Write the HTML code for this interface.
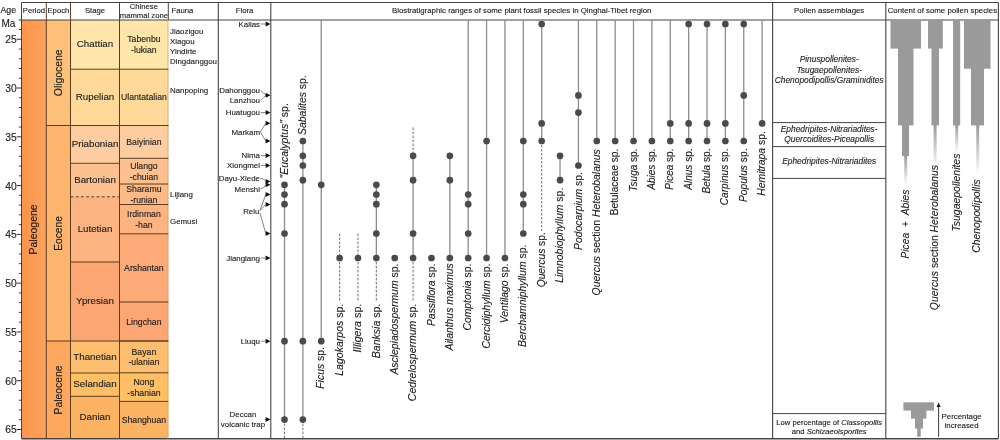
<!DOCTYPE html>
<html><head><meta charset="utf-8"><title>Biostratigraphic ranges</title>
<style>html,body{margin:0;padding:0;background:#fff;}body{width:1000px;height:440px;overflow:hidden;font-family:"Liberation Sans",sans-serif;}</style>
</head><body>
<svg width="1000" height="440" viewBox="0 0 1000 440" style="display:block;font-family:'Liberation Sans',sans-serif;filter:blur(0.42px)" stroke-linejoin="round">
<defs>
<linearGradient id="gP" x1="0" x2="1" y1="0" y2="0"><stop offset="0" stop-color="#fb9348"/><stop offset="1" stop-color="#fda25e"/></linearGradient>
<linearGradient id="fade" x1="0" x2="0" y1="0" y2="1"><stop offset="0" stop-color="#9a9a9a"/><stop offset="1" stop-color="#9a9a9a" stop-opacity="0"/></linearGradient>
<style>text{stroke:#1a1a1a;stroke-width:0.12px;paint-order:stroke fill}</style>
</defs>
<rect width="1000" height="440" fill="#fff"/>
<rect x="21.50" y="20.00" width="24.80" height="418.80" fill="url(#gP)"/>
<rect x="46.30" y="20.00" width="24.20" height="105.50" fill="#fdc07a"/>
<rect x="46.30" y="125.50" width="24.20" height="215.50" fill="#fdb46c"/>
<rect x="46.30" y="341.00" width="24.20" height="97.80" fill="#fda75f"/>
<rect x="70.50" y="20.00" width="49.00" height="49.20" fill="#fee6aa"/>
<rect x="70.50" y="69.20" width="49.00" height="56.30" fill="#fed99a"/>
<rect x="70.50" y="125.50" width="49.00" height="37.80" fill="#fdcda1"/>
<rect x="70.50" y="163.30" width="49.00" height="33.50" fill="#fdc091"/>
<rect x="70.50" y="196.80" width="49.00" height="65.20" fill="#fdb482"/>
<rect x="70.50" y="262.00" width="49.00" height="79.00" fill="#fca773"/>
<rect x="70.50" y="341.00" width="49.00" height="32.00" fill="#fdbf6f"/>
<rect x="70.50" y="373.00" width="49.00" height="23.30" fill="#febf65"/>
<rect x="70.50" y="396.30" width="49.00" height="42.50" fill="#fdb462"/>
<rect x="119.50" y="20.00" width="48.80" height="49.20" fill="#fee6aa"/>
<rect x="119.50" y="69.20" width="48.80" height="56.30" fill="#fed99a"/>
<rect x="119.50" y="125.50" width="48.80" height="32.80" fill="#fdcda1"/>
<rect x="119.50" y="158.30" width="48.80" height="25.70" fill="#fdc091"/>
<rect x="119.50" y="184.00" width="48.80" height="20.50" fill="#fdba89"/>
<rect x="119.50" y="204.50" width="48.80" height="29.30" fill="#fdb482"/>
<rect x="119.50" y="233.80" width="48.80" height="68.20" fill="#fcab78"/>
<rect x="119.50" y="302.00" width="48.80" height="39.00" fill="#fca773"/>
<rect x="119.50" y="341.00" width="48.80" height="31.80" fill="#fdbf6f"/>
<rect x="119.50" y="372.80" width="48.80" height="28.60" fill="#febf65"/>
<rect x="119.50" y="401.40" width="48.80" height="37.40" fill="#fdb462"/>
<line x1="21.50" y1="2.50" x2="998.40" y2="2.50" stroke="#444" stroke-width="1.0"/>
<line x1="21.50" y1="20.00" x2="998.40" y2="20.00" stroke="#444" stroke-width="1.2"/>
<line x1="21.50" y1="438.80" x2="998.40" y2="438.80" stroke="#444" stroke-width="1.4"/>
<line x1="21.50" y1="2.50" x2="21.50" y2="438.80" stroke="#5e3d1c" stroke-width="1.0"/>
<line x1="46.30" y1="2.50" x2="46.30" y2="438.80" stroke="#5e3d1c" stroke-width="1.0"/>
<line x1="70.50" y1="2.50" x2="70.50" y2="438.80" stroke="#5e3d1c" stroke-width="1.0"/>
<line x1="119.50" y1="2.50" x2="119.50" y2="438.80" stroke="#5e3d1c" stroke-width="1.0"/>
<line x1="168.30" y1="2.50" x2="168.30" y2="20.00" stroke="#444" stroke-width="1.0"/>
<line x1="168.00" y1="20.00" x2="168.00" y2="438.80" stroke="#c9a470" stroke-width="0.8"/>
<line x1="218.30" y1="2.50" x2="218.30" y2="438.80" stroke="#444" stroke-width="1.1"/>
<line x1="270.80" y1="2.50" x2="270.80" y2="438.80" stroke="#444" stroke-width="1.1"/>
<line x1="772.60" y1="2.50" x2="772.60" y2="438.80" stroke="#444" stroke-width="1.1"/>
<line x1="885.80" y1="2.50" x2="885.80" y2="438.80" stroke="#444" stroke-width="1.1"/>
<line x1="998.40" y1="2.50" x2="998.40" y2="438.80" stroke="#444" stroke-width="1.1"/>
<line x1="46.30" y1="125.50" x2="168.30" y2="125.50" stroke="#5e3d1c" stroke-width="1.0"/>
<line x1="46.30" y1="341.00" x2="168.30" y2="341.00" stroke="#5e3d1c" stroke-width="1.0"/>
<line x1="70.50" y1="69.20" x2="119.50" y2="69.20" stroke="#5e3d1c" stroke-width="1.0"/>
<line x1="70.50" y1="163.30" x2="119.50" y2="163.30" stroke="#5e3d1c" stroke-width="1.0"/>
<line x1="70.50" y1="196.80" x2="119.50" y2="196.80" stroke="#5e3d1c" stroke-width="1.0" stroke-dasharray="3 2.2"/>
<line x1="70.50" y1="262.00" x2="119.50" y2="262.00" stroke="#5e3d1c" stroke-width="1.0"/>
<line x1="70.50" y1="373.00" x2="119.50" y2="373.00" stroke="#5e3d1c" stroke-width="1.0"/>
<line x1="70.50" y1="396.30" x2="119.50" y2="396.30" stroke="#5e3d1c" stroke-width="1.0"/>
<line x1="119.50" y1="69.20" x2="168.30" y2="69.20" stroke="#5e3d1c" stroke-width="1.0"/>
<line x1="119.50" y1="125.50" x2="168.30" y2="125.50" stroke="#5e3d1c" stroke-width="1.0"/>
<line x1="119.50" y1="158.30" x2="168.30" y2="158.30" stroke="#5e3d1c" stroke-width="1.0"/>
<line x1="119.50" y1="184.00" x2="168.30" y2="184.00" stroke="#5e3d1c" stroke-width="1.0"/>
<line x1="119.50" y1="204.50" x2="168.30" y2="204.50" stroke="#5e3d1c" stroke-width="1.0"/>
<line x1="119.50" y1="233.80" x2="168.30" y2="233.80" stroke="#5e3d1c" stroke-width="1.0"/>
<line x1="119.50" y1="302.00" x2="168.30" y2="302.00" stroke="#5e3d1c" stroke-width="1.0"/>
<line x1="119.50" y1="341.00" x2="168.30" y2="341.00" stroke="#5e3d1c" stroke-width="1.0"/>
<line x1="119.50" y1="372.80" x2="168.30" y2="372.80" stroke="#5e3d1c" stroke-width="1.0"/>
<line x1="119.50" y1="401.40" x2="168.30" y2="401.40" stroke="#5e3d1c" stroke-width="1.0"/>
<line x1="18.80" y1="29.49" x2="21.50" y2="29.49" stroke="#333" stroke-width="0.9"/>
<line x1="16.70" y1="39.25" x2="21.50" y2="39.25" stroke="#333" stroke-width="1.0"/>
<line x1="18.80" y1="49.01" x2="21.50" y2="49.01" stroke="#333" stroke-width="0.9"/>
<line x1="18.80" y1="58.76" x2="21.50" y2="58.76" stroke="#333" stroke-width="0.9"/>
<line x1="18.80" y1="68.52" x2="21.50" y2="68.52" stroke="#333" stroke-width="0.9"/>
<line x1="18.80" y1="78.27" x2="21.50" y2="78.27" stroke="#333" stroke-width="0.9"/>
<line x1="16.70" y1="88.03" x2="21.50" y2="88.03" stroke="#333" stroke-width="1.0"/>
<line x1="18.80" y1="97.79" x2="21.50" y2="97.79" stroke="#333" stroke-width="0.9"/>
<line x1="18.80" y1="107.54" x2="21.50" y2="107.54" stroke="#333" stroke-width="0.9"/>
<line x1="18.80" y1="117.30" x2="21.50" y2="117.30" stroke="#333" stroke-width="0.9"/>
<line x1="18.80" y1="127.05" x2="21.50" y2="127.05" stroke="#333" stroke-width="0.9"/>
<line x1="16.70" y1="136.81" x2="21.50" y2="136.81" stroke="#333" stroke-width="1.0"/>
<line x1="18.80" y1="146.57" x2="21.50" y2="146.57" stroke="#333" stroke-width="0.9"/>
<line x1="18.80" y1="156.32" x2="21.50" y2="156.32" stroke="#333" stroke-width="0.9"/>
<line x1="18.80" y1="166.08" x2="21.50" y2="166.08" stroke="#333" stroke-width="0.9"/>
<line x1="18.80" y1="175.83" x2="21.50" y2="175.83" stroke="#333" stroke-width="0.9"/>
<line x1="16.70" y1="185.59" x2="21.50" y2="185.59" stroke="#333" stroke-width="1.0"/>
<line x1="18.80" y1="195.35" x2="21.50" y2="195.35" stroke="#333" stroke-width="0.9"/>
<line x1="18.80" y1="205.10" x2="21.50" y2="205.10" stroke="#333" stroke-width="0.9"/>
<line x1="18.80" y1="214.86" x2="21.50" y2="214.86" stroke="#333" stroke-width="0.9"/>
<line x1="18.80" y1="224.61" x2="21.50" y2="224.61" stroke="#333" stroke-width="0.9"/>
<line x1="16.70" y1="234.37" x2="21.50" y2="234.37" stroke="#333" stroke-width="1.0"/>
<line x1="18.80" y1="244.13" x2="21.50" y2="244.13" stroke="#333" stroke-width="0.9"/>
<line x1="18.80" y1="253.88" x2="21.50" y2="253.88" stroke="#333" stroke-width="0.9"/>
<line x1="18.80" y1="263.64" x2="21.50" y2="263.64" stroke="#333" stroke-width="0.9"/>
<line x1="18.80" y1="273.39" x2="21.50" y2="273.39" stroke="#333" stroke-width="0.9"/>
<line x1="16.70" y1="283.15" x2="21.50" y2="283.15" stroke="#333" stroke-width="1.0"/>
<line x1="18.80" y1="292.91" x2="21.50" y2="292.91" stroke="#333" stroke-width="0.9"/>
<line x1="18.80" y1="302.66" x2="21.50" y2="302.66" stroke="#333" stroke-width="0.9"/>
<line x1="18.80" y1="312.42" x2="21.50" y2="312.42" stroke="#333" stroke-width="0.9"/>
<line x1="18.80" y1="322.17" x2="21.50" y2="322.17" stroke="#333" stroke-width="0.9"/>
<line x1="16.70" y1="331.93" x2="21.50" y2="331.93" stroke="#333" stroke-width="1.0"/>
<line x1="18.80" y1="341.69" x2="21.50" y2="341.69" stroke="#333" stroke-width="0.9"/>
<line x1="18.80" y1="351.44" x2="21.50" y2="351.44" stroke="#333" stroke-width="0.9"/>
<line x1="18.80" y1="361.20" x2="21.50" y2="361.20" stroke="#333" stroke-width="0.9"/>
<line x1="18.80" y1="370.95" x2="21.50" y2="370.95" stroke="#333" stroke-width="0.9"/>
<line x1="16.70" y1="380.71" x2="21.50" y2="380.71" stroke="#333" stroke-width="1.0"/>
<line x1="18.80" y1="390.47" x2="21.50" y2="390.47" stroke="#333" stroke-width="0.9"/>
<line x1="18.80" y1="400.22" x2="21.50" y2="400.22" stroke="#333" stroke-width="0.9"/>
<line x1="18.80" y1="409.98" x2="21.50" y2="409.98" stroke="#333" stroke-width="0.9"/>
<line x1="18.80" y1="419.73" x2="21.50" y2="419.73" stroke="#333" stroke-width="0.9"/>
<line x1="16.70" y1="429.49" x2="21.50" y2="429.49" stroke="#333" stroke-width="1.0"/>
<text x="16.70" y="43.20" font-size="10.3" text-anchor="end" fill="#1a1a1a">25</text>
<text x="16.70" y="91.98" font-size="10.3" text-anchor="end" fill="#1a1a1a">30</text>
<text x="16.70" y="140.76" font-size="10.3" text-anchor="end" fill="#1a1a1a">35</text>
<text x="16.70" y="189.54" font-size="10.3" text-anchor="end" fill="#1a1a1a">40</text>
<text x="16.70" y="238.32" font-size="10.3" text-anchor="end" fill="#1a1a1a">45</text>
<text x="16.70" y="287.10" font-size="10.3" text-anchor="end" fill="#1a1a1a">50</text>
<text x="16.70" y="335.88" font-size="10.3" text-anchor="end" fill="#1a1a1a">55</text>
<text x="16.70" y="384.66" font-size="10.3" text-anchor="end" fill="#1a1a1a">60</text>
<text x="16.70" y="433.44" font-size="10.3" text-anchor="end" fill="#1a1a1a">65</text>
<text x="0.50" y="12.70" font-size="8.8" text-anchor="start" fill="#1a1a1a">Age</text>
<text x="1.50" y="27.20" font-size="10.0" text-anchor="start" fill="#1a1a1a">Ma</text>
<line x1="18.60" y1="20.00" x2="21.50" y2="20.00" stroke="#333" stroke-width="1.0"/>
<text x="33.90" y="12.90" font-size="7.7" text-anchor="middle" fill="#1a1a1a">Period</text>
<text x="58.40" y="12.90" font-size="7.7" text-anchor="middle" fill="#1a1a1a">Epoch</text>
<text x="95.00" y="12.90" font-size="7.7" text-anchor="middle" fill="#1a1a1a">Stage</text>
<text x="143.90" y="8.50" font-size="7.7" text-anchor="middle" fill="#1a1a1a">Chinese</text>
<text x="143.90" y="17.70" font-size="7.7" text-anchor="middle" fill="#1a1a1a">mammal zone</text>
<text x="171.50" y="12.90" font-size="7.7" text-anchor="start" fill="#1a1a1a">Fauna</text>
<text x="244.55" y="12.90" font-size="7.7" text-anchor="middle" fill="#1a1a1a">Flora</text>
<text x="521.70" y="12.90" font-size="7.85" text-anchor="middle" fill="#1a1a1a">Biostratigraphic ranges of some plant fossil species in Qinghai-Tibet region</text>
<text x="829.20" y="12.90" font-size="7.85" text-anchor="middle" fill="#1a1a1a">Pollen assemblages</text>
<text x="942.40" y="12.90" font-size="7.85" text-anchor="middle" fill="#1a1a1a">Content of some pollen species</text>
<text transform="translate(37.13,229.40) rotate(-90)" font-size="10.5" text-anchor="middle" fill="#1a1a1a">Paleogene</text>
<text transform="translate(61.89,72.80) rotate(-90)" font-size="10.4" text-anchor="middle" fill="#1a1a1a">Oligocene</text>
<text transform="translate(61.86,233.40) rotate(-90)" font-size="10.3" text-anchor="middle" fill="#1a1a1a">Eocene</text>
<text transform="translate(61.89,390.00) rotate(-90)" font-size="10.4" text-anchor="middle" fill="#1a1a1a">Paleocene</text>
<text x="95.00" y="47.30" font-size="9.75" text-anchor="middle" fill="#1a1a1a">Chattian</text>
<text x="95.00" y="100.05" font-size="9.75" text-anchor="middle" fill="#1a1a1a">Rupelian</text>
<text x="95.00" y="147.10" font-size="9.75" text-anchor="middle" fill="#1a1a1a">Priabonian</text>
<text x="95.00" y="182.75" font-size="9.75" text-anchor="middle" fill="#1a1a1a">Bartonian</text>
<text x="95.00" y="232.10" font-size="9.75" text-anchor="middle" fill="#1a1a1a">Lutetian</text>
<text x="95.00" y="304.20" font-size="9.75" text-anchor="middle" fill="#1a1a1a">Ypresian</text>
<text x="95.00" y="359.70" font-size="9.75" text-anchor="middle" fill="#1a1a1a">Thanetian</text>
<text x="95.00" y="387.35" font-size="9.75" text-anchor="middle" fill="#1a1a1a">Selandian</text>
<text x="95.00" y="420.25" font-size="9.75" text-anchor="middle" fill="#1a1a1a">Danian</text>
<text x="143.90" y="42.40" font-size="8.7" text-anchor="middle" fill="#1a1a1a">Tabenbu</text>
<text x="143.90" y="53.00" font-size="8.7" text-anchor="middle" fill="#1a1a1a">-lukian</text>
<text x="143.90" y="100.45" font-size="8.7" text-anchor="middle" fill="#1a1a1a">Ulantatalian</text>
<text x="143.90" y="145.00" font-size="8.7" text-anchor="middle" fill="#1a1a1a">Baiyinian</text>
<text x="143.90" y="168.95" font-size="8.7" text-anchor="middle" fill="#1a1a1a">Ulango</text>
<text x="143.90" y="179.55" font-size="8.7" text-anchor="middle" fill="#1a1a1a">-chuian</text>
<text x="143.90" y="192.05" font-size="8.7" text-anchor="middle" fill="#1a1a1a">Sharamu</text>
<text x="143.90" y="202.65" font-size="8.7" text-anchor="middle" fill="#1a1a1a">-runian</text>
<text x="143.90" y="216.95" font-size="8.7" text-anchor="middle" fill="#1a1a1a">Irdinman</text>
<text x="143.90" y="227.55" font-size="8.7" text-anchor="middle" fill="#1a1a1a">-han</text>
<text x="143.90" y="271.00" font-size="8.7" text-anchor="middle" fill="#1a1a1a">Arshantan</text>
<text x="143.90" y="324.60" font-size="8.7" text-anchor="middle" fill="#1a1a1a">Lingchan</text>
<text x="143.90" y="354.70" font-size="8.7" text-anchor="middle" fill="#1a1a1a">Bayan</text>
<text x="143.90" y="365.30" font-size="8.7" text-anchor="middle" fill="#1a1a1a">-ulanian</text>
<text x="143.90" y="384.90" font-size="8.7" text-anchor="middle" fill="#1a1a1a">Nong</text>
<text x="143.90" y="395.50" font-size="8.7" text-anchor="middle" fill="#1a1a1a">-shanian</text>
<text x="143.90" y="423.20" font-size="8.7" text-anchor="middle" fill="#1a1a1a">Shanghuan</text>
<text x="170.00" y="34.20" font-size="7.9" text-anchor="start" fill="#1a1a1a">Jiaozigou</text>
<text x="170.00" y="44.20" font-size="7.9" text-anchor="start" fill="#1a1a1a">Xiagou</text>
<text x="170.00" y="54.10" font-size="7.9" text-anchor="start" fill="#1a1a1a">Yindirte</text>
<text x="170.00" y="63.80" font-size="7.9" text-anchor="start" fill="#1a1a1a">Dingdanggou</text>
<text x="170.00" y="93.10" font-size="7.9" text-anchor="start" fill="#1a1a1a">Nanpoping</text>
<text x="170.00" y="197.30" font-size="7.9" text-anchor="start" fill="#1a1a1a">Lijiang</text>
<text x="170.00" y="223.70" font-size="7.9" text-anchor="start" fill="#1a1a1a">Gemusi</text>
<text x="260.00" y="26.80" font-size="7.9" text-anchor="end" fill="#1a1a1a">Kailas</text>
<path d="M260.80 24.00 L265.80 24.00" fill="none" stroke="#5a5a5a" stroke-width="0.75"/>
<path d="M270.50 24.00 L265.60 21.50 L265.60 26.50Z" fill="#111"/>
<text x="260.00" y="93.00" font-size="7.9" text-anchor="end" fill="#1a1a1a">Dahonggou</text>
<text x="260.00" y="103.40" font-size="7.9" text-anchor="end" fill="#1a1a1a">Lanzhou</text>
<path d="M260.50 90.40 L263.60 93.00 L265.80 95.20" fill="none" stroke="#5a5a5a" stroke-width="0.75"/>
<path d="M260.50 100.40 L263.60 97.40 L265.80 95.20" fill="none" stroke="#5a5a5a" stroke-width="0.75"/>
<path d="M270.50 95.20 L265.60 92.70 L265.60 97.70Z" fill="#111"/>
<text x="260.00" y="115.40" font-size="7.9" text-anchor="end" fill="#1a1a1a">Huatugou</text>
<path d="M260.80 112.60 L265.80 112.60" fill="none" stroke="#5a5a5a" stroke-width="0.75"/>
<path d="M270.50 112.60 L265.60 110.10 L265.60 115.10Z" fill="#111"/>
<text x="260.00" y="134.80" font-size="7.9" text-anchor="end" fill="#1a1a1a">Markam</text>
<path d="M260.40 132.00 L265.80 123.20" fill="none" stroke="#5a5a5a" stroke-width="0.75"/>
<path d="M260.40 132.00 L265.80 141.00" fill="none" stroke="#5a5a5a" stroke-width="0.75"/>
<path d="M270.50 123.20 L265.60 120.70 L265.60 125.70Z" fill="#111"/>
<path d="M270.50 141.00 L265.60 138.50 L265.60 143.50Z" fill="#111"/>
<text x="260.00" y="158.40" font-size="7.9" text-anchor="end" fill="#1a1a1a">Nima</text>
<path d="M260.80 155.60 L265.80 155.60" fill="none" stroke="#5a5a5a" stroke-width="0.75"/>
<path d="M270.50 155.60 L265.60 153.10 L265.60 158.10Z" fill="#111"/>
<text x="260.00" y="168.20" font-size="7.9" text-anchor="end" fill="#1a1a1a">Xiongmei</text>
<path d="M260.80 165.40 L265.80 165.40" fill="none" stroke="#5a5a5a" stroke-width="0.75"/>
<path d="M270.50 165.40 L265.60 162.90 L265.60 167.90Z" fill="#111"/>
<text x="260.00" y="181.00" font-size="7.9" text-anchor="end" fill="#1a1a1a">Dayu-Xiede</text>
<path d="M260.40 178.40 L263.50 179.00 L265.80 181.40" fill="none" stroke="#5a5a5a" stroke-width="0.75"/>
<path d="M270.50 181.40 L265.60 178.90 L265.60 183.90Z" fill="#111"/>
<text x="260.00" y="192.40" font-size="7.9" text-anchor="end" fill="#1a1a1a">Menshi</text>
<path d="M260.40 189.00 L263.50 187.60 L265.80 184.80" fill="none" stroke="#5a5a5a" stroke-width="0.75"/>
<path d="M270.50 184.80 L265.60 182.30 L265.60 187.30Z" fill="#111"/>
<text x="259.40" y="214.40" font-size="7.9" text-anchor="end" fill="#1a1a1a">Relu</text>
<path d="M260.00 210.50 L265.80 194.40" fill="none" stroke="#5a5a5a" stroke-width="0.75"/>
<path d="M260.00 210.50 L265.80 204.40" fill="none" stroke="#5a5a5a" stroke-width="0.75"/>
<path d="M260.00 213.00 L265.80 233.60" fill="none" stroke="#5a5a5a" stroke-width="0.75"/>
<path d="M270.50 194.40 L265.60 191.90 L265.60 196.90Z" fill="#111"/>
<path d="M270.50 204.40 L265.60 201.90 L265.60 206.90Z" fill="#111"/>
<path d="M270.50 233.60 L265.60 231.10 L265.60 236.10Z" fill="#111"/>
<text x="260.00" y="260.80" font-size="7.9" text-anchor="end" fill="#1a1a1a">Jianglang</text>
<path d="M260.80 258.00 L265.80 258.00" fill="none" stroke="#5a5a5a" stroke-width="0.75"/>
<path d="M270.50 258.00 L265.60 255.50 L265.60 260.50Z" fill="#111"/>
<text x="260.00" y="344.00" font-size="7.9" text-anchor="end" fill="#1a1a1a">Liuqu</text>
<path d="M260.80 341.20 L265.80 341.20" fill="none" stroke="#5a5a5a" stroke-width="0.75"/>
<path d="M270.50 341.20 L265.60 338.70 L265.60 343.70Z" fill="#111"/>
<text x="243.00" y="417.20" font-size="7.9" text-anchor="middle" fill="#1a1a1a">Deccan</text>
<text x="243.00" y="426.60" font-size="7.9" text-anchor="middle" fill="#1a1a1a">volcanic trap</text>
<path d="M264.60 419.60 L265.80 419.60" fill="none" stroke="#5a5a5a" stroke-width="0.75"/>
<path d="M270.50 419.60 L265.60 417.10 L265.60 422.10Z" fill="#111"/>
<line x1="284.50" y1="184.80" x2="284.50" y2="419.60" stroke="#8c8c8c" stroke-width="1.3"/>
<line x1="284.50" y1="419.60" x2="284.50" y2="438.80" stroke="#7c7c7c" stroke-width="1.1" stroke-dasharray="2.5 1.5"/>
<line x1="302.87" y1="141.00" x2="302.87" y2="419.60" stroke="#8c8c8c" stroke-width="1.3"/>
<line x1="302.87" y1="419.60" x2="302.87" y2="438.80" stroke="#7c7c7c" stroke-width="1.1" stroke-dasharray="2.5 1.5"/>
<line x1="321.24" y1="20.00" x2="321.24" y2="341.20" stroke="#8c8c8c" stroke-width="1.3"/>
<line x1="339.61" y1="233.50" x2="339.61" y2="258.00" stroke="#7c7c7c" stroke-width="1.1" stroke-dasharray="2.5 1.5"/>
<line x1="339.61" y1="258.00" x2="339.61" y2="300.60" stroke="#7c7c7c" stroke-width="1.1" stroke-dasharray="2.5 1.5"/>
<line x1="357.98" y1="233.50" x2="357.98" y2="258.00" stroke="#7c7c7c" stroke-width="1.1" stroke-dasharray="2.5 1.5"/>
<line x1="357.98" y1="258.00" x2="357.98" y2="300.60" stroke="#7c7c7c" stroke-width="1.1" stroke-dasharray="2.5 1.5"/>
<line x1="376.35" y1="184.80" x2="376.35" y2="258.00" stroke="#8c8c8c" stroke-width="1.3"/>
<line x1="376.35" y1="258.00" x2="376.35" y2="300.60" stroke="#7c7c7c" stroke-width="1.1" stroke-dasharray="2.5 1.5"/>
<line x1="413.09" y1="155.80" x2="413.09" y2="258.00" stroke="#8c8c8c" stroke-width="1.3"/>
<line x1="413.09" y1="127.50" x2="413.09" y2="155.80" stroke="#7c7c7c" stroke-width="1.1" stroke-dasharray="2.5 1.5"/>
<line x1="413.09" y1="258.00" x2="413.09" y2="300.60" stroke="#7c7c7c" stroke-width="1.1" stroke-dasharray="2.5 1.5"/>
<line x1="449.83" y1="155.80" x2="449.83" y2="258.00" stroke="#8c8c8c" stroke-width="1.3"/>
<line x1="468.20" y1="20.00" x2="468.20" y2="258.00" stroke="#8c8c8c" stroke-width="1.3"/>
<line x1="486.57" y1="20.00" x2="486.57" y2="258.00" stroke="#8c8c8c" stroke-width="1.3"/>
<line x1="504.94" y1="20.00" x2="504.94" y2="258.00" stroke="#8c8c8c" stroke-width="1.3"/>
<line x1="523.31" y1="20.00" x2="523.31" y2="233.50" stroke="#8c8c8c" stroke-width="1.3"/>
<line x1="541.68" y1="24.00" x2="541.68" y2="141.00" stroke="#8c8c8c" stroke-width="1.3"/>
<line x1="541.68" y1="141.00" x2="541.68" y2="231.00" stroke="#7c7c7c" stroke-width="1.1" stroke-dasharray="2.5 1.5"/>
<line x1="560.05" y1="155.80" x2="560.05" y2="180.20" stroke="#8c8c8c" stroke-width="1.3"/>
<line x1="578.42" y1="20.00" x2="578.42" y2="165.50" stroke="#8c8c8c" stroke-width="1.3"/>
<line x1="596.79" y1="20.00" x2="596.79" y2="141.00" stroke="#8c8c8c" stroke-width="1.3"/>
<line x1="615.16" y1="20.00" x2="615.16" y2="141.00" stroke="#8c8c8c" stroke-width="1.3"/>
<line x1="633.53" y1="20.00" x2="633.53" y2="141.00" stroke="#8c8c8c" stroke-width="1.3"/>
<line x1="651.90" y1="20.00" x2="651.90" y2="141.00" stroke="#8c8c8c" stroke-width="1.3"/>
<line x1="670.27" y1="20.00" x2="670.27" y2="141.00" stroke="#8c8c8c" stroke-width="1.3"/>
<line x1="688.64" y1="20.00" x2="688.64" y2="141.00" stroke="#8c8c8c" stroke-width="1.3"/>
<line x1="707.01" y1="20.00" x2="707.01" y2="141.00" stroke="#8c8c8c" stroke-width="1.3"/>
<line x1="725.38" y1="20.00" x2="725.38" y2="141.00" stroke="#8c8c8c" stroke-width="1.3"/>
<line x1="743.75" y1="20.00" x2="743.75" y2="141.00" stroke="#8c8c8c" stroke-width="1.3"/>
<line x1="762.12" y1="20.00" x2="762.12" y2="123.40" stroke="#8c8c8c" stroke-width="1.3"/>
<circle cx="284.50" cy="184.80" r="3.35" fill="#4a4a4a"/>
<circle cx="284.50" cy="194.50" r="3.35" fill="#4a4a4a"/>
<circle cx="284.50" cy="204.20" r="3.35" fill="#4a4a4a"/>
<circle cx="284.50" cy="233.50" r="3.35" fill="#4a4a4a"/>
<circle cx="284.50" cy="341.20" r="3.35" fill="#4a4a4a"/>
<circle cx="284.50" cy="419.60" r="3.35" fill="#4a4a4a"/>
<text transform="translate(287.66,178.50) rotate(-90)" font-size="10.45" text-anchor="start" fill="#1a1a1a" xml:space="preserve"><tspan font-style="italic">&quot;Eucalyptus&quot;</tspan><tspan> sp.</tspan></text>
<circle cx="302.87" cy="141.00" r="3.35" fill="#4a4a4a"/>
<circle cx="302.87" cy="155.80" r="3.35" fill="#4a4a4a"/>
<circle cx="302.87" cy="165.50" r="3.35" fill="#4a4a4a"/>
<circle cx="302.87" cy="180.20" r="3.35" fill="#4a4a4a"/>
<circle cx="302.87" cy="341.20" r="3.35" fill="#4a4a4a"/>
<circle cx="302.87" cy="419.60" r="3.35" fill="#4a4a4a"/>
<text transform="translate(306.03,135.00) rotate(-90)" font-size="10.45" text-anchor="start" fill="#1a1a1a" xml:space="preserve"><tspan font-style="italic">Sabalites</tspan><tspan> sp.</tspan></text>
<circle cx="321.24" cy="184.80" r="3.35" fill="#4a4a4a"/>
<circle cx="321.24" cy="341.20" r="3.35" fill="#4a4a4a"/>
<text transform="translate(324.40,347.00) rotate(-90)" font-size="10.45" text-anchor="end" fill="#1a1a1a" xml:space="preserve"><tspan font-style="italic">Ficus</tspan><tspan> sp.</tspan></text>
<circle cx="339.61" cy="258.00" r="3.35" fill="#4a4a4a"/>
<text transform="translate(342.81,303.70) rotate(-90)" font-size="10.55" text-anchor="end" fill="#1a1a1a" xml:space="preserve"><tspan font-style="italic">Lagokarpos</tspan><tspan> sp.</tspan></text>
<circle cx="357.98" cy="258.00" r="3.35" fill="#4a4a4a"/>
<text transform="translate(361.23,303.70) rotate(-90)" font-size="10.7" text-anchor="end" fill="#1a1a1a" xml:space="preserve"><tspan font-style="italic">Illigera</tspan><tspan> sp.</tspan></text>
<circle cx="376.35" cy="184.80" r="3.35" fill="#4a4a4a"/>
<circle cx="376.35" cy="194.50" r="3.35" fill="#4a4a4a"/>
<circle cx="376.35" cy="204.20" r="3.35" fill="#4a4a4a"/>
<circle cx="376.35" cy="233.50" r="3.35" fill="#4a4a4a"/>
<circle cx="376.35" cy="258.00" r="3.35" fill="#4a4a4a"/>
<text transform="translate(379.55,303.70) rotate(-90)" font-size="10.55" text-anchor="end" fill="#1a1a1a" xml:space="preserve"><tspan font-style="italic">Banksia</tspan><tspan> sp.</tspan></text>
<circle cx="394.72" cy="258.00" r="3.35" fill="#4a4a4a"/>
<text transform="translate(397.86,263.70) rotate(-90)" font-size="10.4" text-anchor="end" fill="#1a1a1a" xml:space="preserve"><tspan font-style="italic">Asclepiadospermum</tspan><tspan> sp.</tspan></text>
<circle cx="413.09" cy="155.80" r="3.35" fill="#4a4a4a"/>
<circle cx="413.09" cy="180.20" r="3.35" fill="#4a4a4a"/>
<circle cx="413.09" cy="233.50" r="3.35" fill="#4a4a4a"/>
<circle cx="413.09" cy="258.00" r="3.35" fill="#4a4a4a"/>
<text transform="translate(416.27,303.70) rotate(-90)" font-size="10.5" text-anchor="end" fill="#1a1a1a" xml:space="preserve"><tspan font-style="italic">Cedrelospermum</tspan><tspan> sp.</tspan></text>
<circle cx="431.46" cy="258.00" r="3.35" fill="#4a4a4a"/>
<text transform="translate(434.60,263.70) rotate(-90)" font-size="10.4" text-anchor="end" fill="#1a1a1a" xml:space="preserve"><tspan font-style="italic">Passiflora</tspan><tspan> sp.</tspan></text>
<circle cx="449.83" cy="155.80" r="3.35" fill="#4a4a4a"/>
<circle cx="449.83" cy="180.20" r="3.35" fill="#4a4a4a"/>
<circle cx="449.83" cy="258.00" r="3.35" fill="#4a4a4a"/>
<text transform="translate(452.97,263.20) rotate(-90)" font-size="10.4" text-anchor="end" fill="#1a1a1a" xml:space="preserve"><tspan font-style="italic">Ailanthus maximus</tspan></text>
<circle cx="468.20" cy="194.50" r="3.35" fill="#4a4a4a"/>
<circle cx="468.20" cy="204.20" r="3.35" fill="#4a4a4a"/>
<circle cx="468.20" cy="233.50" r="3.35" fill="#4a4a4a"/>
<circle cx="468.20" cy="258.00" r="3.35" fill="#4a4a4a"/>
<text transform="translate(471.34,263.60) rotate(-90)" font-size="10.4" text-anchor="end" fill="#1a1a1a" xml:space="preserve"><tspan font-style="italic">Comptonia</tspan><tspan> sp.</tspan></text>
<circle cx="486.57" cy="141.00" r="3.35" fill="#4a4a4a"/>
<circle cx="486.57" cy="258.00" r="3.35" fill="#4a4a4a"/>
<text transform="translate(489.71,263.60) rotate(-90)" font-size="10.4" text-anchor="end" fill="#1a1a1a" xml:space="preserve"><tspan font-style="italic">Cercidiphyllum</tspan><tspan> sp.</tspan></text>
<circle cx="504.94" cy="258.00" r="3.35" fill="#4a4a4a"/>
<text transform="translate(508.08,263.60) rotate(-90)" font-size="10.4" text-anchor="end" fill="#1a1a1a" xml:space="preserve"><tspan font-style="italic">Ventilago</tspan><tspan> sp.</tspan></text>
<circle cx="523.31" cy="141.00" r="3.35" fill="#4a4a4a"/>
<circle cx="523.31" cy="194.50" r="3.35" fill="#4a4a4a"/>
<circle cx="523.31" cy="204.20" r="3.35" fill="#4a4a4a"/>
<circle cx="523.31" cy="233.50" r="3.35" fill="#4a4a4a"/>
<text transform="translate(526.45,244.70) rotate(-90)" font-size="10.4" text-anchor="end" fill="#1a1a1a" xml:space="preserve"><tspan font-style="italic">Berchamniphyllum</tspan><tspan> sp.</tspan></text>
<circle cx="541.68" cy="24.00" r="3.35" fill="#4a4a4a"/>
<circle cx="541.68" cy="123.40" r="3.35" fill="#4a4a4a"/>
<circle cx="541.68" cy="141.00" r="3.35" fill="#4a4a4a"/>
<text transform="translate(544.75,232.30) rotate(-90)" font-size="10.2" text-anchor="end" fill="#1a1a1a" xml:space="preserve"><tspan font-style="italic">Quercus</tspan><tspan> sp.</tspan></text>
<circle cx="560.05" cy="155.80" r="3.35" fill="#4a4a4a"/>
<circle cx="560.05" cy="180.20" r="3.35" fill="#4a4a4a"/>
<text transform="translate(563.21,187.70) rotate(-90)" font-size="10.45" text-anchor="end" fill="#1a1a1a" xml:space="preserve"><tspan font-style="italic">Limnobiophyllum</tspan><tspan> sp.</tspan></text>
<circle cx="578.42" cy="95.40" r="3.35" fill="#4a4a4a"/>
<circle cx="578.42" cy="112.60" r="3.35" fill="#4a4a4a"/>
<circle cx="578.42" cy="165.50" r="3.35" fill="#4a4a4a"/>
<text transform="translate(581.56,172.10) rotate(-90)" font-size="10.38" text-anchor="end" fill="#1a1a1a" xml:space="preserve"><tspan font-style="italic">Podocarpium</tspan><tspan> sp.</tspan></text>
<circle cx="596.79" cy="141.00" r="3.35" fill="#4a4a4a"/>
<text transform="translate(599.95,149.20) rotate(-90)" font-size="10.45" text-anchor="end" fill="#1a1a1a" xml:space="preserve"><tspan font-style="italic">Quercus</tspan><tspan> section </tspan><tspan font-style="italic">Heterobalanus</tspan></text>
<circle cx="615.16" cy="141.00" r="3.35" fill="#4a4a4a"/>
<text transform="translate(618.18,148.80) rotate(-90)" font-size="10.05" text-anchor="end" fill="#1a1a1a" xml:space="preserve"><tspan>Betulaceae sp.</tspan></text>
<circle cx="633.53" cy="141.00" r="3.35" fill="#4a4a4a"/>
<text transform="translate(636.53,148.60) rotate(-90)" font-size="10.0" text-anchor="end" fill="#1a1a1a" xml:space="preserve"><tspan font-style="italic">Tsuga</tspan><tspan> sp.</tspan></text>
<circle cx="651.90" cy="141.00" r="3.35" fill="#4a4a4a"/>
<text transform="translate(654.90,148.60) rotate(-90)" font-size="10.0" text-anchor="end" fill="#1a1a1a" xml:space="preserve"><tspan font-style="italic">Abies</tspan><tspan> sp.</tspan></text>
<circle cx="670.27" cy="123.40" r="3.35" fill="#4a4a4a"/>
<circle cx="670.27" cy="141.00" r="3.35" fill="#4a4a4a"/>
<text transform="translate(673.27,148.60) rotate(-90)" font-size="10.0" text-anchor="end" fill="#1a1a1a" xml:space="preserve"><tspan font-style="italic">Picea</tspan><tspan> sp.</tspan></text>
<circle cx="688.64" cy="24.00" r="3.35" fill="#4a4a4a"/>
<circle cx="688.64" cy="123.40" r="3.35" fill="#4a4a4a"/>
<circle cx="688.64" cy="141.00" r="3.35" fill="#4a4a4a"/>
<text transform="translate(691.64,148.50) rotate(-90)" font-size="10.0" text-anchor="end" fill="#1a1a1a" xml:space="preserve"><tspan font-style="italic">Alnus</tspan><tspan> sp.</tspan></text>
<circle cx="707.01" cy="24.00" r="3.35" fill="#4a4a4a"/>
<circle cx="707.01" cy="123.40" r="3.35" fill="#4a4a4a"/>
<circle cx="707.01" cy="141.00" r="3.35" fill="#4a4a4a"/>
<text transform="translate(710.06,148.50) rotate(-90)" font-size="10.15" text-anchor="end" fill="#1a1a1a" xml:space="preserve"><tspan font-style="italic">Betula</tspan><tspan> sp.</tspan></text>
<circle cx="725.38" cy="24.00" r="3.35" fill="#4a4a4a"/>
<circle cx="725.38" cy="123.40" r="3.35" fill="#4a4a4a"/>
<circle cx="725.38" cy="141.00" r="3.35" fill="#4a4a4a"/>
<text transform="translate(728.42,148.50) rotate(-90)" font-size="10.1" text-anchor="end" fill="#1a1a1a" xml:space="preserve"><tspan font-style="italic">Carpinus</tspan><tspan> sp.</tspan></text>
<circle cx="743.75" cy="24.00" r="3.35" fill="#4a4a4a"/>
<circle cx="743.75" cy="95.40" r="3.35" fill="#4a4a4a"/>
<circle cx="743.75" cy="141.00" r="3.35" fill="#4a4a4a"/>
<text transform="translate(746.84,148.50) rotate(-90)" font-size="10.25" text-anchor="end" fill="#1a1a1a" xml:space="preserve"><tspan font-style="italic">Populus</tspan><tspan> sp.</tspan></text>
<circle cx="762.12" cy="123.40" r="3.35" fill="#4a4a4a"/>
<text transform="translate(765.26,131.10) rotate(-90)" font-size="10.4" text-anchor="end" fill="#1a1a1a" xml:space="preserve"><tspan font-style="italic">Hemitrapa</tspan><tspan> sp.</tspan></text>
<line x1="772.60" y1="122.60" x2="885.80" y2="122.60" stroke="#444" stroke-width="1.0"/>
<line x1="772.60" y1="146.60" x2="885.80" y2="146.60" stroke="#444" stroke-width="1.0"/>
<line x1="772.60" y1="178.40" x2="885.80" y2="178.40" stroke="#444" stroke-width="1.0"/>
<line x1="772.60" y1="413.60" x2="885.80" y2="413.60" stroke="#444" stroke-width="1.0"/>
<text x="829.20" y="62.40" font-size="8.4" text-anchor="middle" fill="#1a1a1a" font-style="italic">Pinuspollenites-</text>
<text x="829.20" y="72.60" font-size="8.4" text-anchor="middle" fill="#1a1a1a" font-style="italic">Tsugaepollenites-</text>
<text x="829.20" y="82.80" font-size="8.4" text-anchor="middle" fill="#1a1a1a" font-style="italic">Chenopodipollis/Graminidites</text>
<text x="829.20" y="132.40" font-size="8.4" text-anchor="middle" fill="#1a1a1a" font-style="italic">Ephedripites-Nitrariadites-</text>
<text x="829.20" y="142.40" font-size="8.4" text-anchor="middle" fill="#1a1a1a" font-style="italic">Quercoidites-Piceapollis</text>
<text x="829.20" y="163.80" font-size="8.4" text-anchor="middle" fill="#1a1a1a" font-style="italic">Ephedripites-Nitrariadites</text>
<text x="829.20" y="425.40" font-size="7.65" text-anchor="middle" fill="#1a1a1a">Low percentage of <tspan font-style="italic">Classopollis</tspan></text>
<text x="829.20" y="434.40" font-size="7.65" text-anchor="middle" fill="#1a1a1a">and <tspan font-style="italic">Schizaeoisporites</tspan></text>
<rect x="890.50" y="20.00" width="30.50" height="28.60" fill="#9a9a9a"/>
<rect x="898.00" y="48.00" width="15.50" height="77.40" fill="#9a9a9a"/>
<rect x="902.00" y="125.00" width="7.00" height="31.00" fill="#9a9a9a"/>
<rect x="904.2" y="155.5" width="3.0" height="30" fill="url(#fade)"/>
<rect x="928.00" y="20.00" width="14.80" height="28.60" fill="#9a9a9a"/>
<rect x="931.50" y="48.00" width="7.50" height="77.40" fill="#9a9a9a"/>
<rect x="933.6" y="125" width="3.0" height="44" fill="url(#fade)"/>
<rect x="953.00" y="20.00" width="7.20" height="105.40" fill="#9a9a9a"/>
<rect x="955.2" y="125" width="3.0" height="28" fill="url(#fade)"/>
<rect x="964.00" y="20.00" width="26.50" height="48.70" fill="#9a9a9a"/>
<rect x="971.00" y="68.00" width="13.00" height="57.40" fill="#9a9a9a"/>
<rect x="976.2" y="125" width="3.0" height="50" fill="url(#fade)"/>
<text transform="translate(909.31,189.60) rotate(-90)" font-size="10.3" text-anchor="end" fill="#1a1a1a" xml:space="preserve"><tspan font-style="italic">Picea</tspan>  +  <tspan font-style="italic">Abies</tspan></text>
<text transform="translate(937.93,165.00) rotate(-90)" font-size="10.36" text-anchor="end" fill="#1a1a1a" xml:space="preserve"><tspan font-style="italic">Quercus</tspan> section <tspan font-style="italic">Heterobalanus</tspan></text>
<text transform="translate(959.96,153.60) rotate(-90)" font-size="10.45" text-anchor="end" fill="#1a1a1a" xml:space="preserve"><tspan font-style="italic">Tsugaepollenites</tspan></text>
<text transform="translate(980.31,179.40) rotate(-90)" font-size="10.3" text-anchor="end" fill="#1a1a1a" xml:space="preserve"><tspan font-style="italic">Chenopodipollis</tspan></text>
<rect x="903.40" y="402.30" width="30.60" height="8.30" fill="#9a9a9a"/>
<rect x="911.00" y="410.00" width="15.40" height="8.60" fill="#9a9a9a"/>
<rect x="915.00" y="418.00" width="8.00" height="10.50" fill="#9a9a9a"/>
<rect x="917.20" y="428.00" width="3.50" height="8.80" fill="#9a9a9a"/>
<line x1="938.60" y1="436.80" x2="938.60" y2="405.50" stroke="#222" stroke-width="0.9"/>
<path d="M938.6 402.4 L936.6 407.0 L940.6 407.0Z" fill="#111"/>
<text x="961.60" y="418.70" font-size="7.85" text-anchor="middle" fill="#1a1a1a">Percentage</text>
<text x="961.60" y="428.10" font-size="7.85" text-anchor="middle" fill="#1a1a1a">increased</text>
</svg>
</body></html>
